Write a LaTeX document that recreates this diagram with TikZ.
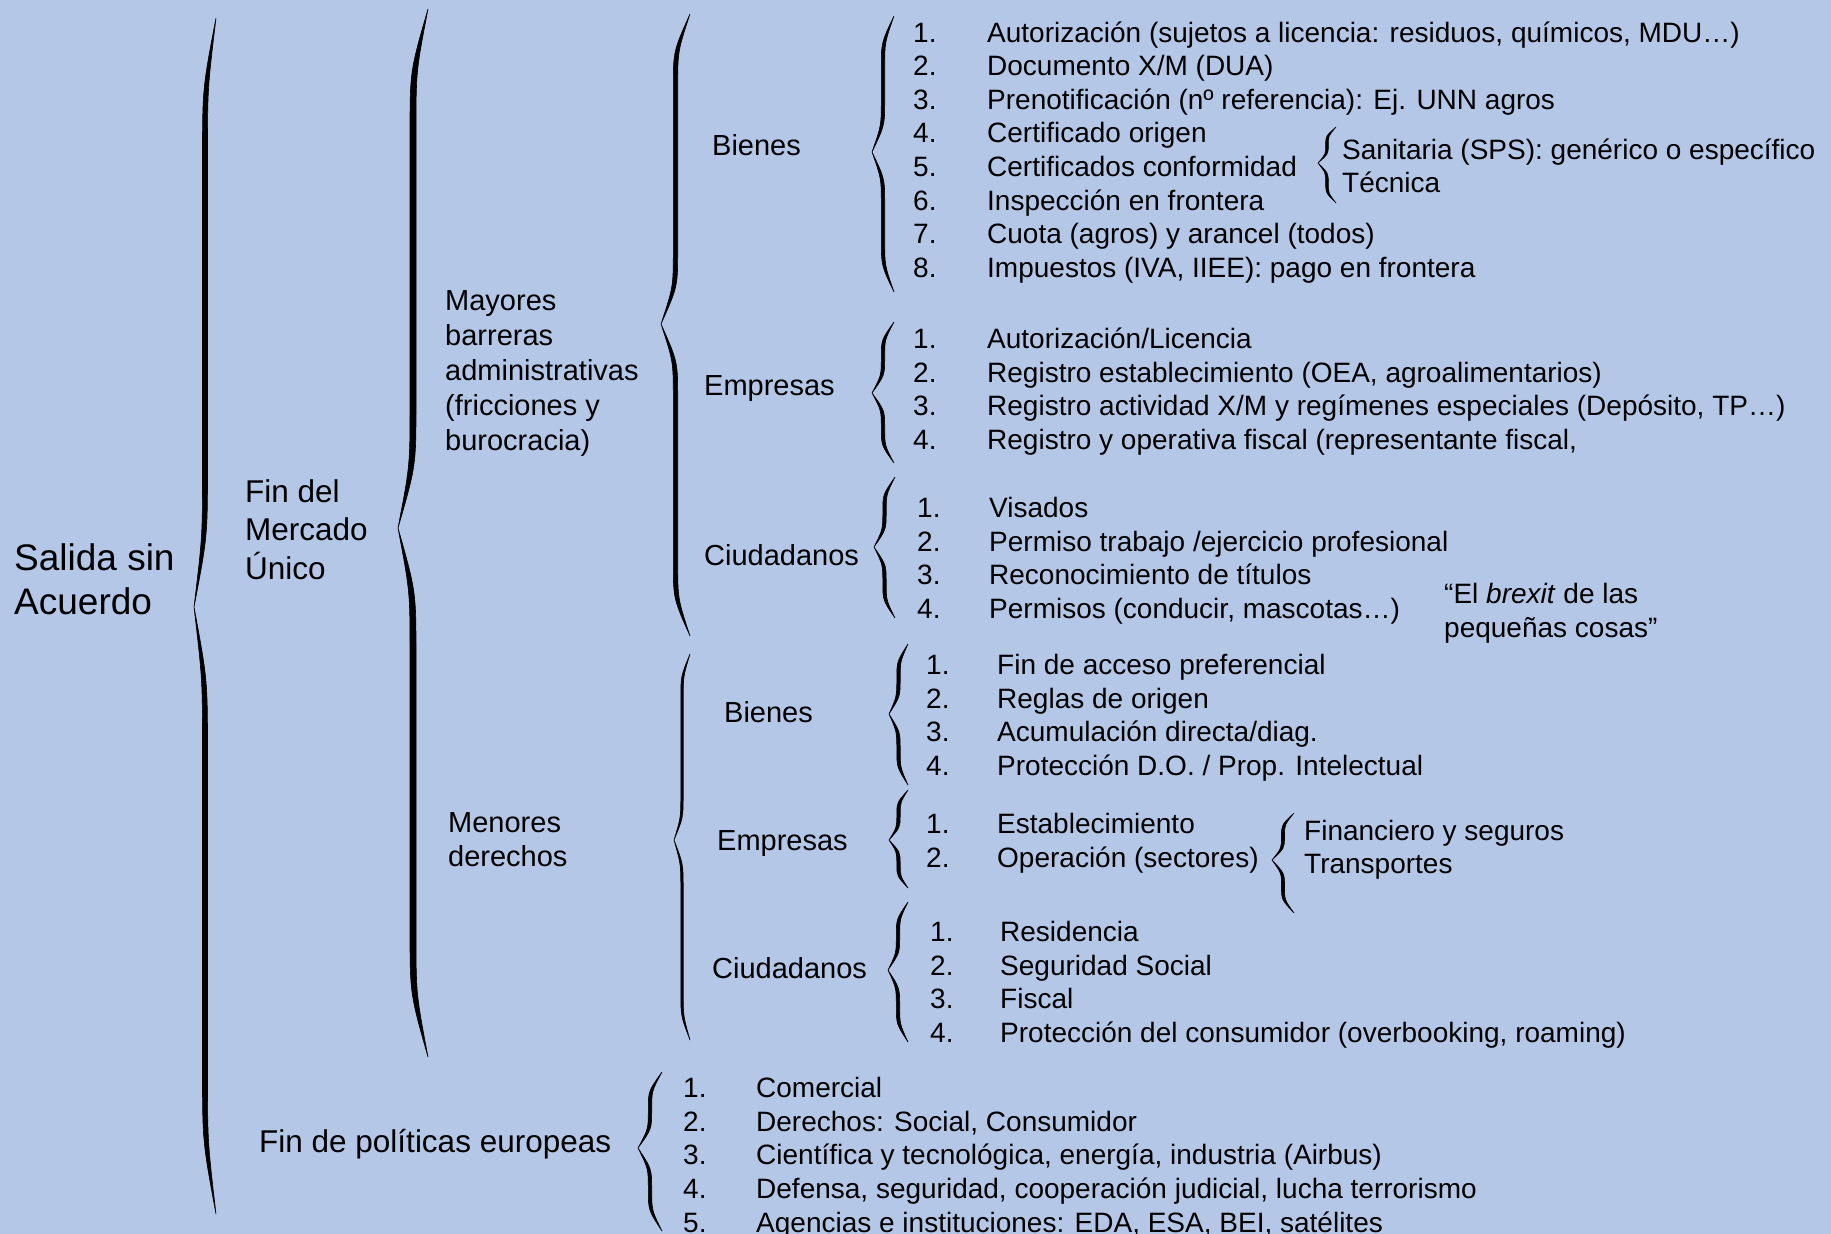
\documentclass[tikz,border=0pt]{standalone}
\usepackage{fontspec}
\setmainfont{Liberation Sans}
\usepackage{xcolor}
\usepackage{tikz}
\usetikzlibrary{positioning}

\definecolor{slidebg}{RGB}{180,199,231}

% tapered curly brace opening to the right:
% x of ends, x of tip, y top, y tip, y bottom, half thickness
\newcommand{\curly}[6]{%
  \pgfmathsetmacro\brX{(#1+#2)/2}%
  \pgfmathsetmacro\brA{min(max(1.2*(#1-#2),0.12*(#4-#3)),0.25*(#4-#3))}%
  \pgfmathsetmacro\brB{min(max(1.2*(#1-#2),0.12*(#5-#4)),0.25*(#5-#4))}%
  \filldraw[line width=0.6pt]
    (#1,#3) .. controls (\brX-#6,#3+\brA) .. (\brX-#6,#3+2*\brA)
    -- (\brX-#6,#4-2*\brA) .. controls (\brX-#6,#4-\brA) .. (#2,#4)
    .. controls (\brX-#6,#4+\brB) .. (\brX-#6,#4+2*\brB)
    -- (\brX-#6,#5-2*\brB) .. controls (\brX-#6,#5-\brB) .. (#1,#5)
    .. controls (\brX+#6,#5-\brB) .. (\brX+#6,#5-2*\brB)
    -- (\brX+#6,#4+2*\brB) .. controls (\brX+#6,#4+\brB) .. (#2,#4)
    .. controls (\brX+#6,#4-\brA) .. (\brX+#6,#4-2*\brA)
    -- (\brX+#6,#3+2*\brA) .. controls (\brX+#6,#3+\brA) .. (#1,#3) -- cycle;}

\begin{document}
\begin{tikzpicture}[
    x=1pt, y=-1pt,
    lbl/.style={
        anchor=west,
        inner sep=0,
        text height=25.6pt,
        text depth=4pt,
        font=\fontsize{29}{35}\selectfont
    },
    grp/.style={
        anchor=west,
        inner sep=0,
        align=left
    },
    num/.style={
        anchor=west,
        inner sep=0,
        text height=25.6pt,
        text depth=4pt,
        font=\fontsize{28}{34}\selectfont
    },
    itm/.style={num}
]

\useasboundingbox (0,0) rectangle (1831,1234);
\fill[slidebg] (0,0) rectangle (1831,1234);

% left-hand levels
\node[grp, font=\fontsize{37}{44}\selectfont] (salida) at (14,579.5) {Salida sin\\Acuerdo};
\node[grp, font=\fontsize{31.5}{38.5}\selectfont] (mercado) at (245,529.5) {Fin del\\Mercado\\Único};
\node[grp, font=\fontsize{29}{35}\selectfont] (mayores) at (445,373.5) {Mayores\\barreras\\administrativas\\(fricciones y\\burocracia)};
\node[grp, font=\fontsize{29}{34}\selectfont] (menores) at (448,839.5) {Menores\\derechos};
\node[lbl, font=\fontsize{31.5}{38}\selectfont] (politicas) at (259,1142) {Fin de políticas europeas};

\node[lbl] (bienesA) at (712,145) {Bienes};
\node[lbl] (empresasA) at (704,385) {Empresas};
\node[lbl] (ciudadanosA) at (704,555) {Ciudadanos};
\node[lbl] (bienesB) at (724,712) {Bienes};
\node[lbl] (empresasB) at (717,840) {Empresas};
\node[lbl] (ciudadanosB) at (712,968) {Ciudadanos};

% mayores barreras: bienes
\foreach \txt [count=\i] in {{Autorización (sujetos a licencia: residuos, químicos, MDU…)},
    {Documento X/M (DUA)}, {Prenotificación (nº referencia): Ej. UNN agros},
    {Certificado origen}, {Certificados conformidad}, {Inspección en frontera},
    {Cuota (agros) y arancel (todos)}, {Impuestos (IVA, IIEE): pago en frontera}}{
  \node[num] (bA\i) at (913,{31.5+33.55*(\i-1)}) {\i.};
  \node[itm] (bAt\i) at (987,{31.5+33.55*(\i-1)}) {\txt};
}
\node[itm] (sanitaria) at (1342,149) {Sanitaria (SPS): genérico o específico};
\node[itm] (tecnica) at (1342,182) {Técnica};

% mayores barreras: empresas
\foreach \txt [count=\i] in {{Autorización/Licencia},
    {Registro establecimiento (OEA, agroalimentarios)},
    {Registro actividad X/M y regímenes especiales (Depósito, TP…)},
    {Registro y operativa fiscal (representante fiscal,}}{
  \node[num] (eA\i) at (913,{337.5+33.8*(\i-1)}) {\i.};
  \node[itm] (eAt\i) at (987,{337.5+33.8*(\i-1)}) {\txt};
}

% mayores barreras: ciudadanos
\foreach \txt [count=\i] in {{Visados}, {Permiso trabajo /ejercicio profesional},
    {Reconocimiento de títulos}, {Permisos (conducir, mascotas…)}}{
  \node[num] (cA\i) at (917,{507+33.4*(\i-1)}) {\i.};
  \node[itm] (cAt\i) at (989,{507+33.4*(\i-1)}) {\txt};
}
\node[grp, font=\fontsize{28}{34}\selectfont] (quote) at (1444,613) {“El \textit{brexit} de las\\pequeñas cosas”};

% menores derechos: bienes
\foreach \txt [count=\i] in {{Fin de acceso preferencial}, {Reglas de origen},
    {Acumulación directa/diag.}, {Protección D.O. / Prop. Intelectual}}{
  \node[num] (bB\i) at (926,{663.5+33.8*(\i-1)}) {\i.};
  \node[itm] (bBt\i) at (997,{663.5+33.8*(\i-1)}) {\txt};
}

% menores derechos: empresas
\foreach \txt [count=\i] in {{Establecimiento}, {Operación (sectores)}}{
  \node[num] (eB\i) at (926,{823+33.9*(\i-1)}) {\i.};
  \node[itm] (eBt\i) at (997,{823+33.9*(\i-1)}) {\txt};
}
\node[itm] (financiero) at (1304,830) {Financiero y seguros};
\node[itm] (transportes) at (1304,863) {Transportes};

% menores derechos: ciudadanos
\foreach \txt [count=\i] in {{Residencia}, {Seguridad Social}, {Fiscal},
    {Protección del consumidor (overbooking, roaming)}}{
  \node[num] (cB\i) at (930,{931+33.5*(\i-1)}) {\i.};
  \node[itm] (cBt\i) at (1000,{931+33.5*(\i-1)}) {\txt};
}

% politicas europeas
\foreach \txt [count=\i] in {{Comercial}, {Derechos: Social, Consumidor},
    {Científica y tecnológica, energía, industria (Airbus)},
    {Defensa, seguridad, cooperación judicial, lucha terrorismo},
    {Agencias e instituciones: EDA, ESA, BEI, satélites}}{
  \node[num] (p\i) at (683,{1086.5+33.7*(\i-1)}) {\i.};
  \node[itm] (pt\i) at (756,{1086.5+33.7*(\i-1)}) {\txt};
}

% braces
\curly{216}{194}{18}{607}{1214}{2.5}
\curly{428}{398}{9}{528}{1057}{3}
\curly{690}{661}{14}{324}{636}{2.2}
\curly{690}{674}{654}{840}{1040}{1.2}
\curly{894}{872}{16}{152}{292}{1.7}
\curly{894}{872}{322}{393}{463}{1.7}
\curly{895}{874}{477}{547}{618}{1.7}
\curly{1336}{1318}{127}{163}{203}{1.3}
\curly{908}{889}{644}{714}{785}{1.7}
\curly{908}{889}{790}{840}{888}{1.7}
\curly{1294}{1272}{813}{860}{913}{1.5}
\curly{908}{888}{902}{970}{1042}{1.7}
\curly{662}{638}{1072}{1148}{1231}{1.7}

\end{tikzpicture}
\end{document}
